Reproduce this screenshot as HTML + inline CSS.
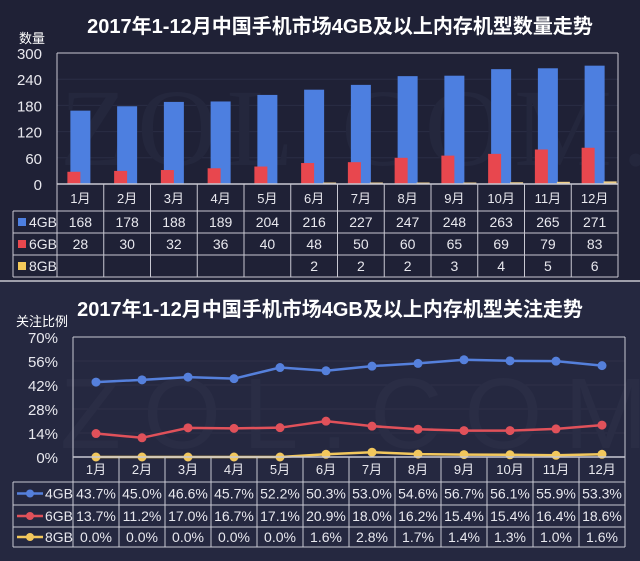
<!DOCTYPE html>
<html><head><meta charset="utf-8">
<style>
html,body{margin:0;padding:0;background:#1f2136;}
svg{display:block;font-family:"Liberation Sans","Noto Sans CJK SC",sans-serif;}
</style></head>
<body>
<svg id="s" width="640" height="561" viewBox="0 0 640 561" xmlns="http://www.w3.org/2000/svg">
<rect x="0" y="0" width="640" height="281" fill="#1f2136"/>
<rect x="0" y="281" width="640" height="280" fill="#252840"/>
<line x1="0" y1="281" x2="640" y2="281" stroke="#c8c8d0" stroke-width="1.5"/>
<text x="340" y="33" fill="#fff" font-size="20" font-weight="bold" text-anchor="middle">2017年1-12月中国手机市场4GB及以上内存机型数量走势</text>
<text x="330" y="316" fill="#fff" font-size="20" font-weight="bold" text-anchor="middle">2017年1-12月中国手机市场4GB及以上内存机型关注走势</text>
<text x="19" y="43" fill="#fff" font-size="13">数量</text>
<text x="16" y="326" fill="#fff" font-size="13">关注比例</text>
<g id="g"></g>
</svg>
<script>
var g=document.getElementById('g'),h='';
function T(x,y,t,sz,c,a){h+='<text x="'+x+'" y="'+y+'" fill="'+(c||'#e8e8ee')+'" font-size="'+(sz||13)+'" text-anchor="'+(a||'middle')+'">'+t+'</text>';}
function L(x1,y1,x2,y2,c,w){h+='<line x1="'+x1+'" y1="'+y1+'" x2="'+x2+'" y2="'+y2+'" stroke="'+c+'" stroke-width="'+(w||1)+'"/>';}
function R(x,y,w,hh,c){h+='<rect x="'+x+'" y="'+y+'" width="'+w+'" height="'+hh+'" fill="'+c+'"/>';}
var B='#4d7fe0',Rd='#e8474e',Y='#f3c95a',W='#c8c8d2';
var a4=[168,178,188,189,204,216,227,247,248,263,265,271],a6=[28,30,32,36,40,48,50,60,65,69,79,83],a8=[0,0,0,0,0,2,2,2,3,4,5,6];
var x0=57,x1=618,cw=(x1-x0)/12,yt=53,yb=184;
for(var i=0;i<=5;i++){var y=yb-(yb-yt)*i/5;T(42,y+6,i*60,15,'#e8e8ee','end');if(i>0&&i<5)L(x0,y,x1,y,'#2a2d45');}
h+='<text x="60" y="165" fill="#24273d" font-size="110" font-family="Liberation Serif" letter-spacing="10">ZOL.COM.CN</text>';
for(var i=0;i<12;i++){var cx=x0+cw*(i+0.5);
 var hb=a4[i]/300*(yb-yt);R(cx-10,yb-hb,20,hb,B);
 var hr=a6[i]/300*(yb-yt);R(cx-13,yb-hr,13,hr,Rd);
 if(a8[i]){var hy=Math.max(1.5,a8[i]/300*(yb-yt));R(cx+9,yb-hy,13,hy,'#f0d08a');}
}
L(x0,yt,x1,yt,W);L(x0,yt,x0,277,W);L(x1,yt,x1,277,W);L(x0,yb,x1,yb,W,1.5);
var rows=[211,233,255,277];
L(13,211,x1,211,W);L(13,233,x1,233,W);L(13,255,x1,255,W);L(13,277,x1,277,W);L(13,211,13,277,W);
for(var i=0;i<=12;i++)L(x0+cw*i,yb,x0+cw*i,277,W);
var labs=[['4GB',B,a4],['6GB',Rd,a6],['8GB',Y,a8]];
for(var i=0;i<12;i++)T(x0+cw*(i+0.5),203,(i+1)+'月',13);
for(var r=0;r<3;r++){var yy=rows[r];R(18,yy+7,8,8,labs[r][1]);T(29,yy+16,labs[r][0],14,'#e8e8ee','start');
 for(var i=0;i<12;i++){var v=labs[r][2][i];if(r==2&&!v)continue;T(x0+cw*(i+0.5),yy+16,v,14);}}
var p4=[43.7,45.0,46.6,45.7,52.2,50.3,53.0,54.6,56.7,56.1,55.9,53.3],p6=[13.7,11.2,17.0,16.7,17.1,20.9,18.0,16.2,15.4,15.4,16.4,18.6],p8=[0,0,0,0,0,1.6,2.8,1.7,1.4,1.3,1.0,1.6];
var X0=73,X1=625,CW=(X1-X0)/12,Yt=337,Yb=457;
for(var i=0;i<=5;i++){var y=Yb-(Yb-Yt)*i/5;T(58,y+6,(i*14)+'%',15,'#e8e8ee','end');if(i>0&&i<5)L(X0,y,X1,y,'#2e3149');}
h+='<text x="60" y="448" fill="#2a2d45" font-size="100" font-family="Liberation Sans" letter-spacing="22">ZOL.COM.CN</text>';
L(X0,Yt,X1,Yt,W);L(X0,Yt,X0,547,W);L(X1,Yt,X1,547,W);
var ser=[[p4,'#5580dc'],[p6,'#e0515a'],[p8,'#f2c75c']];
for(var s=0;s<3;s++){var d='';for(var i=0;i<12;i++){var x=X0+CW*(i+0.5),y=Yb-ser[s][0][i]/70*(Yb-Yt);d+=(i?'L':'M')+x+','+y;}
 h+='<path d="'+d+'" fill="none" stroke="'+ser[s][1]+'" stroke-width="2.5"/>';
 for(var i=0;i<12;i++){var x=X0+CW*(i+0.5),y=Yb-ser[s][0][i]/70*(Yb-Yt);h+='<circle cx="'+x+'" cy="'+y+'" r="4.5" fill="'+ser[s][1]+'"/>';}}
L(X0,Yb,X1,Yb,W,1.5);
var rw=[482,505,527,547];
L(13,482,X1,482,W);L(13,505,X1,505,W);L(13,527,X1,527,W);L(13,547,X1,547,W);L(13,482,13,547,W);
for(var i=0;i<=12;i++)L(X0+CW*i,Yb,X0+CW*i,547,W);
for(var i=0;i<12;i++)T(X0+CW*(i+0.5),474,(i+1)+'月',13);
var nm=['4GB','6GB','8GB'],pd=[p4,p6,p8];
for(var r=0;r<3;r++){var yy=rw[r],ym=(rw[r]+rw[r+1])/2;L(17,ym,43,ym,ser[r][1],2.5);h+='<circle cx="30" cy="'+ym+'" r="4" fill="'+ser[r][1]+'"/>';
 T(45,ym+5,nm[r],14,'#e8e8ee','start');
 for(var i=0;i<12;i++)T(X0+CW*(i+0.5),ym+5,pd[r][i].toFixed(1)+'%',14);}
g.innerHTML=h;
</script>
</body></html>
